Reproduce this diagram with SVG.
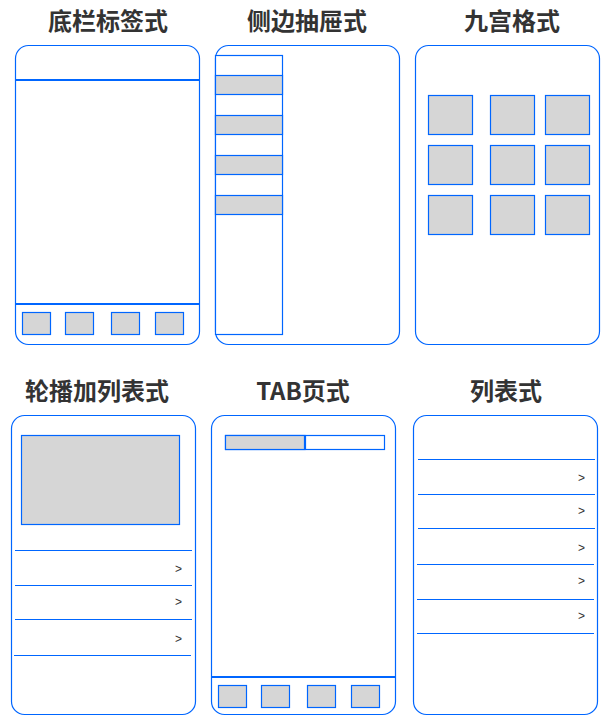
<svg xmlns="http://www.w3.org/2000/svg" width="612" height="726" viewBox="0 0 612 726">
<style>
.frame{fill:#fff;stroke:#0066ff;stroke-width:1.2}
.box{fill:#d6d6d6;stroke:#0066ff;stroke-width:1.2}
.wbox{fill:#fff;stroke:#0066ff;stroke-width:1.2}
.ln{stroke:#0066ff;stroke-width:1.2;fill:none}
.thick{stroke:#0066ff;stroke-width:2.2;fill:none}
.title{font-family:"Noto Sans CJK SC","Liberation Sans",sans-serif;font-weight:bold;font-size:24px;fill:#333;text-anchor:middle}
.arr{font-family:"Liberation Sans",sans-serif;font-size:12px;fill:#333}
</style>
<rect width="612" height="726" fill="#fff"/>

<g id="tabbar">
<text class="title" x="108" y="30">底栏标签式</text>
<rect class="frame" x="15.5" y="45.5" width="184" height="299" rx="13"/>
<line class="thick" x1="15.5" y1="80" x2="199.5" y2="80"/>
<line class="thick" x1="15.5" y1="304" x2="199.5" y2="304"/>
<rect class="box" x="22.5" y="312.5" width="28" height="22"/>
<rect class="box" x="65.5" y="312.5" width="28" height="22"/>
<rect class="box" x="111.5" y="312.5" width="28" height="22"/>
<rect class="box" x="155.5" y="312.5" width="28" height="22"/>
</g>

<g id="drawer">
<text class="title" x="307" y="30">侧边抽屉式</text>
<rect class="frame" x="215.5" y="45.5" width="184" height="299" rx="13"/>
<rect class="wbox" x="215.5" y="55.5" width="67" height="279"/>
<rect class="box" x="215.5" y="75.5" width="67" height="19"/>
<rect class="box" x="215.5" y="115.5" width="67" height="19"/>
<rect class="box" x="215.5" y="155.5" width="67" height="19"/>
<rect class="box" x="215.5" y="195.5" width="67" height="19"/>
</g>

<g id="grid">
<text class="title" x="512" y="30">九宫格式</text>
<rect class="frame" x="415.5" y="45.5" width="184" height="299" rx="13"/>
<rect class="box" x="428.5" y="95.5" width="44" height="39"/>
<rect class="box" x="490.5" y="95.5" width="44" height="39"/>
<rect class="box" x="545.5" y="95.5" width="44" height="39"/>
<rect class="box" x="428.5" y="145.5" width="44" height="39"/>
<rect class="box" x="490.5" y="145.5" width="44" height="39"/>
<rect class="box" x="545.5" y="145.5" width="44" height="39"/>
<rect class="box" x="428.5" y="195.5" width="44" height="39"/>
<rect class="box" x="490.5" y="195.5" width="44" height="39"/>
<rect class="box" x="545.5" y="195.5" width="44" height="39"/>
</g>

<g id="carousel">
<text class="title" x="97" y="400">轮播加列表式</text>
<rect class="frame" x="11.5" y="415.5" width="184" height="299" rx="13"/>
<rect class="box" x="21.5" y="435.5" width="158" height="89"/>
<line class="ln" x1="15" y1="550.5" x2="192" y2="550.5"/>
<line class="ln" x1="15" y1="585.5" x2="192" y2="585.5"/>
<line class="ln" x1="15" y1="619.5" x2="192" y2="619.5"/>
<line class="ln" x1="14" y1="655.5" x2="191" y2="655.5"/>
<text class="arr" x="175" y="572.5">&gt;</text>
<text class="arr" x="175" y="605.5">&gt;</text>
<text class="arr" x="175" y="642.5">&gt;</text>
</g>

<g id="tabpage">
<text class="title" x="303" y="400">TAB页式</text>
<rect class="frame" x="211.5" y="415.5" width="184" height="299" rx="13"/>
<rect class="wbox" x="225.5" y="435.5" width="159" height="14"/>
<rect class="box" x="225.5" y="435.5" width="79.5" height="14"/>
<line class="thick" x1="305" y1="435" x2="305" y2="450"/>
<line class="thick" x1="211.5" y1="677" x2="395.5" y2="677"/>
<rect class="box" x="218.5" y="685.5" width="28" height="22"/>
<rect class="box" x="261.5" y="685.5" width="28" height="22"/>
<rect class="box" x="307.5" y="685.5" width="28" height="22"/>
<rect class="box" x="351.5" y="685.5" width="28" height="22"/>
</g>

<g id="list">
<text class="title" x="506" y="400">列表式</text>
<rect class="frame" x="413.5" y="415.5" width="184" height="299" rx="13"/>
<line class="ln" x1="418" y1="459.5" x2="595" y2="459.5"/>
<line class="ln" x1="418" y1="494.5" x2="595" y2="494.5"/>
<line class="ln" x1="418" y1="528.5" x2="595" y2="528.5"/>
<line class="ln" x1="417" y1="564.5" x2="594" y2="564.5"/>
<line class="ln" x1="417" y1="599.5" x2="594" y2="599.5"/>
<line class="ln" x1="417" y1="633.5" x2="594" y2="633.5"/>
<text class="arr" x="578" y="481.5">&gt;</text>
<text class="arr" x="578" y="514.5">&gt;</text>
<text class="arr" x="578" y="551.5">&gt;</text>
<text class="arr" x="578" y="584.5">&gt;</text>
<text class="arr" x="578" y="619.5">&gt;</text>
</g>
</svg>
